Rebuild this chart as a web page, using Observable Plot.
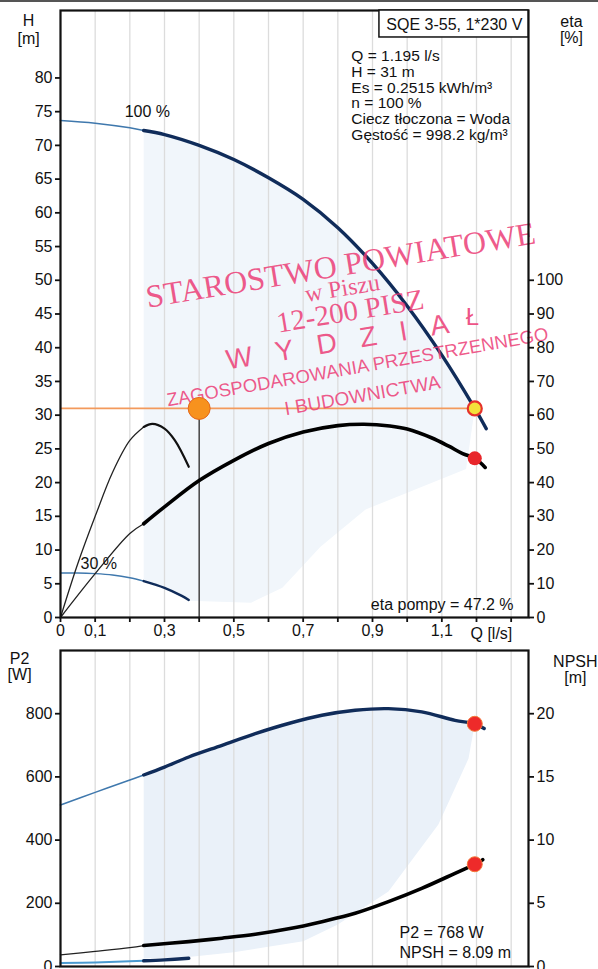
<!DOCTYPE html>
<html><head><meta charset="utf-8">
<script src="https://cdn.jsdelivr.net/npm/d3@7"></script>
<script src="https://cdn.jsdelivr.net/npm/@observablehq/plot@0.6"></script>
<style>
body{margin:0;background:#fff;width:598px;height:969px;overflow:hidden;position:relative;}
#chart svg{display:block;}
#edge{position:absolute;left:0;top:0;width:598px;height:2px;background:#555;}
</style></head><body><div id="chart"></div><div id="edge"></div>
<script>
// ---- data ----
// Pump curve H [m] at 100 % speed
const q100 = [0, 0.1, 0.2, 0.24, 0.3, 0.4, 0.5, 0.6, 0.7, 0.8, 0.9, 1.0, 1.1, 1.195, 1.228];
const h100 = [73.7, 73.3, 72.6, 72.2, 71.6, 70.0, 67.9, 65.2, 62.0, 57.8, 52.5, 46.2, 38.9, 31.0, 28.0];
// Efficiency eta [%] at 100 %
const qEta100 = [0, 0.1, 0.2, 0.24, 0.3, 0.4, 0.5, 0.6, 0.7, 0.8, 0.875, 0.95, 1.0, 1.07, 1.12, 1.16, 1.195, 1.225];
const eta100 = [0, 13, 24.9, 27.8, 32.8, 40.6, 46.6, 51.6, 55.0, 56.9, 57.3, 56.8, 55.9, 53.3, 50.8, 48.6, 47.2, 44.5];
// Curves at 30 % speed
const q30 = [0, 0.05, 0.1, 0.15, 0.2, 0.24, 0.3, 0.35, 0.37];
const h30 = [6.6, 6.6, 6.5, 6.3, 5.9, 5.4, 4.4, 3.2, 2.6];
const qEta30 = [0, 0.05, 0.1, 0.15, 0.2, 0.24, 0.265, 0.3, 0.33, 0.37];
const eta30 = [0, 16, 30, 43, 52.5, 56.5, 57.4, 56, 52.5, 44.7];
// Power P2 [W] and NPSH [m]
const qP2 = [0, 0.1, 0.2, 0.24, 0.3, 0.37, 0.466, 0.562, 0.658, 0.754, 0.85, 0.946, 1.042, 1.138, 1.195, 1.222];
const p2 = [511, 551, 590, 606, 631, 663, 700, 737, 769, 795, 811, 816, 806, 779, 768, 753];
const qNpsh = [0, 0.1, 0.2, 0.24, 0.37, 0.466, 0.562, 0.658, 0.754, 0.85, 0.946, 1.042, 1.138, 1.195, 1.218];
const npsh = [0.92, 1.2, 1.5, 1.66, 1.97, 2.24, 2.55, 2.98, 3.55, 4.21, 5.13, 6.18, 7.37, 8.09, 8.45];
const qP2_30 = [0, 0.1, 0.24, 0.3, 0.37];
const p2_30 = [11, 13, 18, 21, 26];
// Shaded operating areas (outline)
const shadeTopQ = [0.24, 0.3, 0.4, 0.5, 0.6, 0.7, 0.8, 0.9, 1.0, 1.1, 1.195, 1.17, 1.0, 0.88, 0.75, 0.64, 0.55, 0.37, 0.3, 0.24];
const shadeTopH = [72.2, 71.6, 70.0, 67.9, 65.2, 62.0, 57.8, 52.5, 46.2, 38.9, 31.0, 22, 18.5, 16, 10.5, 4.4, 2.2, 2.5, 4.4, 5.4];
const shadeBotQ = [0.24, 0.3, 0.37, 0.466, 0.562, 0.658, 0.754, 0.85, 0.946, 1.042, 1.138, 1.195, 1.177, 1.09, 0.946, 0.8, 0.7, 0.5, 0.37, 0.24];
const shadeBotP = [606, 631, 663, 700, 737, 769, 795, 811, 816, 806, 779, 768, 658, 449, 237, 133, 80, 45, 30, 25];
// Duty point
const dutyQ = 1.195, dutyH = 31, dutyEta = 47.2, dutyP2 = 768, dutyNpsh = 8.09;
const markQ = 0.4;
// Ticks
const xTicks = [0, 0.1, 0.2, 0.3, 0.4, 0.5, 0.6, 0.7, 0.8, 0.9, 1.0, 1.1, 1.2, 1.3];
const xTickText = ["0", "0,1", "", "0,3", "", "0,5", "", "0,7", "", "0,9", "", "1,1", "", ""];
const hTicks = [0, 5, 10, 15, 20, 25, 30, 35, 40, 45, 50, 55, 60, 65, 70, 75, 80];
const etaTicks = [0, 10, 20, 30, 40, 50, 60, 70, 80, 90, 100];
const p2Ticks = [0, 200, 400, 600, 800];
const npshTicks = [0, 5, 10, 15, 20];
const infoLines = ["Q = 1.195 l/s", "H = 31 m", "Es = 0.2515 kWh/m³", "n = 100 %", "Ciecz tłoczona = Woda", "Gęstość = 998.2 kg/m³"];
const stampText = ["STAROSTWO POWIATOWE", "w Piszu", "12-200 PISZ", "W\u00a0\u00a0\u00a0Y\u00a0\u00a0\u00a0D\u00a0\u00a0\u00a0Z\u00a0\u00a0\u00a0I\u00a0\u00a0\u00a0A", "Ł", "ZAGOSPODAROWANIA PRZESTRZENNEGO", "I BUDOWNICTWA"];

// ---- tables ----
const rows = (qs, vs) => qs.map((q, i) => ({q, v: vs[i]}));
const H100 = rows(q100, h100), E100 = rows(qEta100, eta100);
const H30 = rows(q30, h30), E30 = rows(qEta30, eta30);
const P2 = rows(qP2, p2), NP = rows(qNpsh, npsh), P230 = rows(qP2_30, p2_30);
const SHT = rows(shadeTopQ, shadeTopH), SHB = rows(shadeBotQ, shadeBotP);
const thin = a => a.filter(d => d.q <= 0.24), thick = a => a.filter(d => d.q >= 0.24);

const SANS = '"Liberation Sans", Arial, sans-serif';
const SERIF = '"Liberation Serif", "Times New Roman", serif';
const NAVY = "#102c5a", LBLUE = "#3f78ad", STAMP = "#ec3d76";
const C = "catmull-rom";
const etaY = d => d.v / 2;      // eta axis: 100 % ↔ 50 m
const npY = d => d.v * 40;      // NPSH axis: 20 m ↔ 800 W
const AX = {tickSize: 5, tickPadding: 3, strokeWidth: 1.8, fontSize: 16, label: null};

const topPlot = Plot.plot({
  width: 598, height: 640,
  marginLeft: 60, marginRight: 70, marginTop: 10, marginBottom: 23,
  style: {fontFamily: SANS, fontSize: "16px", color: "#111", background: "transparent", overflow: "visible"},
  x: {domain: [0, 1.35], axis: null},
  y: {domain: [0, 90], axis: null},
  marks: [
    Plot.line(SHT, {x: "q", y: "v", fill: "#f1f6fb", stroke: "none", curve: "linear"}),
    Plot.gridX(xTicks, {stroke: "#dcdcdc", strokeOpacity: 1, strokeWidth: 1.3}),
    Plot.ruleY([dutyH], {x1: 0, x2: dutyQ, stroke: "#f39a5c", strokeWidth: 1.6}),
    Plot.ruleX([markQ], {y1: 0, y2: dutyH, stroke: "#222", strokeWidth: 1.2}),
    // 30 %
    Plot.line(thin(H30), {x: "q", y: "v", stroke: LBLUE, strokeWidth: 1.4, curve: C}),
    Plot.line(thick(H30), {x: "q", y: "v", stroke: NAVY, strokeWidth: 2.4, curve: C}),
    Plot.line(thin(E30), {x: "q", y: etaY, stroke: "#222", strokeWidth: 1.3, curve: C}),
    Plot.line(thick(E30), {x: "q", y: etaY, stroke: "#111", strokeWidth: 2.2, curve: C}),
    // 100 %
    Plot.line(thin(H100), {x: "q", y: "v", stroke: LBLUE, strokeWidth: 1.5, curve: C}),
    Plot.line(thick(H100), {x: "q", y: "v", stroke: NAVY, strokeWidth: 3.4, curve: C}),
    Plot.line(thin(E100), {x: "q", y: etaY, stroke: "#222", strokeWidth: 1.3, curve: C}),
    Plot.line(thick(E100), {x: "q", y: etaY, stroke: "#000", strokeWidth: 3.6, curve: C}),
    // stamp
    Plot.text([stampText[0]], {x: 0.808, y: 52.2, rotate: -9.4, fontSize: 32, fontFamily: SERIF, fill: STAMP, fillOpacity: 0.85}),
    Plot.text([stampText[1]], {x: 0.813, y: 48.8, rotate: -9.4, fontSize: 24, fontFamily: SERIF, fill: STAMP, fillOpacity: 0.85}),
    Plot.text([stampText[2]], {x: 0.836, y: 45.4, rotate: -9.4, fontSize: 29, fontFamily: SERIF, fill: STAMP, fillOpacity: 0.85}),
    Plot.text([stampText[3]], {x: 0.799, y: 40.8, rotate: -9.4, fontSize: 28, fontFamily: SANS, fill: STAMP, fillOpacity: 0.85}),
    Plot.text([stampText[4]], {x: 1.188, y: 44.5, fontSize: 24, fontFamily: SANS, fill: STAMP, fillOpacity: 0.9}),
    Plot.text([stampText[5]], {x: 0.857, y: 37.1, rotate: -9.9, fontSize: 18.5, fontFamily: SANS, fill: STAMP, fillOpacity: 0.85}),
    Plot.text([stampText[6]], {x: 0.871, y: 32.9, rotate: -9.9, fontSize: 19, fontFamily: SANS, fill: STAMP, fillOpacity: 0.85}),
    // points
    Plot.dot([{q: markQ, v: dutyH}], {x: "q", y: "v", r: 11, fill: "#f7921e", stroke: "#e4661a", strokeWidth: 1}),
    Plot.dot([{q: dutyQ, v: dutyH}], {x: "q", y: "v", r: 7, fill: "#f3e23a", stroke: "#e5322b", strokeWidth: 2.2}),
    Plot.dot([{q: dutyQ, v: dutyEta}], {x: "q", y: etaY, r: 7, fill: "#e8262b", stroke: "none"}),
    // frame & axes
    Plot.frame({stroke: "#111", strokeWidth: 2.2}),
    Plot.axisY(hTicks, {...AX, anchor: "left"}),
    Plot.axisY(etaTicks.map(d => d / 2), {...AX, anchor: "right", tickFormat: (d, i) => etaTicks[i]}),
    Plot.axisX(xTicks, {...AX, anchor: "bottom", tickPadding: 2, tickFormat: (d, i) => xTickText[i]}),
    Plot.text(["Q [l/s]"], {x: 1.2, y: 0, dy: 16, dx: -6, textAnchor: "start", fontSize: 16}),
    // title box & texts
    Plot.rect([0], {x1: 0.92, x2: 1.35, y1: 86.0, y2: 90, fill: "white", stroke: "#111", strokeWidth: 1.5}),
    Plot.text(["SQE 3-55, 1*230 V"], {x: 1.136, y: 87.9, fontSize: 16}),
    Plot.text([infoLines.join("\n")], {x: 0.839, y: 84.1, textAnchor: "start", lineAnchor: "top", lineHeight: 1.01, fontSize: 15.5}),
    Plot.text(["H\n[m]"], {x: -0.092, y: 89.6, lineAnchor: "top", lineHeight: 1.12, fontSize: 16}),
    Plot.text(["eta\n[%]"], {x: 1.474, y: 89.3, lineAnchor: "top", lineHeight: 1.0, fontSize: 16}),
    Plot.text(["100 %"], {x: 0.185, y: 75, textAnchor: "start", fontSize: 16}),
    Plot.text(["30 %"], {x: 0.058, y: 8.0, textAnchor: "start", fontSize: 16}),
    Plot.text(["eta pompy = 47.2 %"], {x: 1.307, y: 1.9, textAnchor: "end", fontSize: 16})
  ]
});

const botPlot = Plot.plot({
  width: 598, height: 329,
  marginLeft: 60, marginRight: 70, marginTop: 10, marginBottom: 3,
  style: {fontFamily: SANS, fontSize: "16px", color: "#111", background: "transparent", overflow: "visible"},
  x: {domain: [0, 1.35], axis: null},
  y: {domain: [0, 1000], axis: null},
  marks: [
    Plot.line(SHB, {x: "q", y: "v", fill: "#eaf1f9", stroke: "none", curve: "linear"}),
    Plot.gridX(xTicks, {stroke: "#dcdcdc", strokeOpacity: 1, strokeWidth: 1.3}),
    Plot.line(thin(P230), {x: "q", y: "v", stroke: "#4a9ad0", strokeWidth: 2, curve: C}),
    Plot.line(thick(P230), {x: "q", y: "v", stroke: NAVY, strokeWidth: 3.4, curve: C}),
    Plot.line(thin(P2), {x: "q", y: "v", stroke: LBLUE, strokeWidth: 1.5, curve: C}),
    Plot.line(thick(P2), {x: "q", y: "v", stroke: NAVY, strokeWidth: 3.4, curve: C}),
    Plot.line(thin(NP), {x: "q", y: npY, stroke: "#222", strokeWidth: 1.3, curve: C}),
    Plot.line(thick(NP), {x: "q", y: npY, stroke: "#000", strokeWidth: 3.6, curve: C}),
    Plot.dot([{q: dutyQ, v: dutyP2}], {x: "q", y: "v", r: 7.5, fill: "#ee2a2a", stroke: "#f37a3a", strokeWidth: 1}),
    Plot.dot([{q: dutyQ, v: dutyNpsh}], {x: "q", y: npY, r: 7.5, fill: "#ee2a2a", stroke: "#f37a3a", strokeWidth: 1}),
    Plot.frame({stroke: "#111", strokeWidth: 2.2}),
    Plot.axisY(p2Ticks, {...AX, anchor: "left"}),
    Plot.axisY(npshTicks.map(d => d * 40), {...AX, anchor: "right", tickFormat: (d, i) => npshTicks[i]}),
    Plot.text(["P2\n[W]"], {x: -0.118, y: 990, lineAnchor: "top", lineHeight: 0.95, fontSize: 16}),
    Plot.text(["NPSH\n[m]"], {x: 1.485, y: 987, lineAnchor: "top", lineHeight: 1.05, fontSize: 16}),
    Plot.text(["P2 = 768 W"], {x: 0.978, y: 107.6, textAnchor: "start", fontSize: 16}),
    Plot.text(["NPSH = 8.09 m"], {x: 0.978, y: 44.3, textAnchor: "start", fontSize: 16})
  ]
});

const root = document.getElementById("chart");
root.append(topPlot, botPlot);
</script>
</body></html>
